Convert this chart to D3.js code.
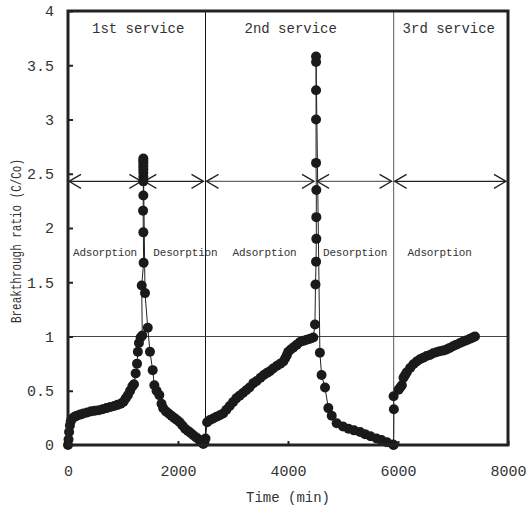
<!DOCTYPE html>
<html>
<head>
<meta charset="utf-8">
<script src="https://cdn.jsdelivr.net/npm/d3@7"></script>
<style>
  html, body { margin: 0; padding: 0; background: #fff; }
  svg { display: block; }
  text { font-family: "Liberation Mono", "Courier New", monospace; fill: #333; }
</style>
</head>
<body>
<svg id="chart" width="528" height="508"></svg>
<script>
// ---------- data ----------
const time1 = [0, 10, 20, 35, 50, 80, 120, 160, 220, 280, 350, 420, 490, 560, 630, 700, 770, 840, 900, 960, 1010, 1050, 1090, 1130, 1170, 1200, 1230, 1255, 1270, 1290, 1320, 1350,
  1340, 1375, 1370, 1365, 1370, 1370, 1370, 1370, 1370, 1370, 1370, 1370, 1370,
  1400, 1450, 1490, 1540, 1570, 1610, 1660, 1700, 1730, 1780, 1830, 1880, 1930, 1980, 2030, 2080, 2130, 2180, 2230, 2280, 2330, 2380, 2420, 2460];
const ratio1 = [0, 0.05, 0.12, 0.18, 0.22, 0.245, 0.26, 0.27, 0.28, 0.29, 0.30, 0.31, 0.315, 0.32, 0.33, 0.34, 0.35, 0.36, 0.37, 0.38, 0.40, 0.43, 0.46, 0.50, 0.54, 0.56, 0.66, 0.75, 0.86, 0.94, 0.99, 1.01,
  1.47, 1.68, 1.96, 2.16, 2.30, 2.43, 2.47, 2.51, 2.54, 2.57, 2.60, 2.62, 2.64,
  1.40, 1.08, 0.86, 0.69, 0.55, 0.50, 0.46, 0.38, 0.34, 0.31, 0.29, 0.27, 0.25, 0.23, 0.21, 0.18, 0.15, 0.13, 0.11, 0.09, 0.07, 0.05, 0.03, 0.01];

const time2 = [2480, 2500, 2530, 2580, 2640, 2700, 2760, 2820, 2880, 2940, 3000, 3060, 3120, 3180, 3240, 3300, 3370, 3430, 3500, 3560, 3620, 3670, 3730, 3800, 3860, 3915, 3950, 3980, 4005, 4050, 4100, 4160, 4218, 4280, 4340, 4400, 4460,
  4490, 4500, 4510, 4515, 4515, 4515, 4510, 4510, 4510, 4510, 4510,
  4580, 4610, 4673, 4733, 4795, 4885, 5000, 5100, 5200, 5310, 5400, 5500, 5610, 5700, 5800, 5910];
const ratio2 = [0.02, 0.06, 0.21, 0.23, 0.245, 0.26, 0.275, 0.29, 0.325, 0.36, 0.395, 0.43, 0.455, 0.48, 0.505, 0.53, 0.57, 0.59, 0.62, 0.645, 0.665, 0.68, 0.705, 0.73, 0.75, 0.77, 0.80, 0.83, 0.86, 0.88, 0.90, 0.925, 0.95, 0.96, 0.97, 0.98, 0.99,
  1.11, 1.48, 1.69, 1.90, 2.10, 2.35, 2.60, 3.00, 3.27, 3.53, 3.58,
  0.85, 0.645, 0.53, 0.34, 0.27, 0.20, 0.17, 0.15, 0.135, 0.12, 0.10, 0.08, 0.06, 0.045, 0.025, 0.005];

const time3 = [5920, 5925, 5920, 6010, 6040, 6070, 6100, 6130, 6160, 6220, 6280, 6340, 6400, 6460, 6520, 6580, 6640, 6700, 6760, 6820, 6885, 6940, 7000, 7060, 7127, 7190, 7250, 7310, 7360, 7400];
const ratio3 = [0.00, 0.33, 0.45, 0.51, 0.53, 0.55, 0.62, 0.645, 0.67, 0.71, 0.745, 0.77, 0.79, 0.805, 0.82, 0.83, 0.845, 0.855, 0.865, 0.87, 0.88, 0.895, 0.91, 0.925, 0.94, 0.955, 0.965, 0.98, 0.99, 1.00];

const serviceLabels = ["1st service", "2nd service", "3rd service"];
const serviceBounds = [0, 2500, 5920, 8000];
const phaseLabels = ["Adsorption", "Desorption", "Adsorption", "Desorption", "Adsorption"];
const phaseBounds = [0, 1370, 2500, 4510, 5920, 8000];
const arrowLevel = 2.43;
const referenceLevel = 1;
const xTicks = [0, 2000, 4000, 6000, 8000];
const yTicks = [0, 0.5, 1, 1.5, 2, 2.5, 3, 3.5, 4];
const xTitle = "Time (min)";
const yTitle = "Breakthrough ratio (C/Co)";

// ---------- layout ----------
const svg = d3.select("#chart");
const x = d3.scaleLinear().domain([0, 8000]).range([68, 508]);
const y = d3.scaleLinear().domain([0, 4]).range([445, 11]);
const phaseLabelOffsets = [5, 10, 27, 7, 14];    // px from phase start
const serviceLabelOffsets = [24, 39, 9];         // px from service start
const arrowColors = ["#222", "#222", "#666", "#666", "#222"];

// separators
const g = svg.append("g");
g.append("line").attr("x1", x(serviceBounds[1])).attr("x2", x(serviceBounds[1]))
  .attr("y1", y(4)).attr("y2", y(0)).attr("stroke", "#111").attr("stroke-width", 1);
g.append("line").attr("x1", x(serviceBounds[2])).attr("x2", x(serviceBounds[2]))
  .attr("y1", y(4)).attr("y2", y(0)).attr("stroke", "#777").attr("stroke-width", 1.2);
g.append("line").attr("x1", x(0)).attr("x2", x(8000))
  .attr("y1", y(referenceLevel)).attr("y2", y(referenceLevel)).attr("stroke", "#444").attr("stroke-width", 1);

// arrows
const ay = y(arrowLevel);
for (let i = 0; i < phaseBounds.length - 1; i++) {
  const a = x(phaseBounds[i]) + 1, b = x(phaseBounds[i + 1]) - 2;
  const c = arrowColors[i];
  g.append("line").attr("x1", a).attr("x2", b).attr("y1", ay).attr("y2", ay)
    .attr("stroke", c).attr("stroke-width", 1.3);
  g.append("path").attr("d", `M${a + 12},${ay - 7}L${a},${ay}L${a + 12},${ay + 7}`)
    .attr("fill", "none").attr("stroke", "#222").attr("stroke-width", 1.3);
  g.append("path").attr("d", `M${b - 12},${ay - 7}L${b},${ay}L${b - 12},${ay + 7}`)
    .attr("fill", "none").attr("stroke", "#222").attr("stroke-width", 1.3);
}

// phase labels
phaseLabels.forEach((t, i) => {
  g.append("text").attr("x", x(phaseBounds[i]) + phaseLabelOffsets[i]).attr("y", 256)
    .attr("font-size", 11).attr("letter-spacing", -0.2).text(t);
});

// service labels
serviceLabels.forEach((t, i) => {
  g.append("text").attr("x", x(serviceBounds[i]) + serviceLabelOffsets[i]).attr("y", 33)
    .attr("font-size", 14).attr("letter-spacing", 0).text(t);
});

// data
const line = d3.line().x(d => x(d[0])).y(d => y(d[1]));
const series = [d3.zip(time1, ratio1), d3.zip(time2, ratio2), d3.zip(time3, ratio3)];
series.forEach(s => {
  svg.append("path").datum(s).attr("d", line).attr("fill", "none")
    .attr("stroke", "#222").attr("stroke-width", 1);
});
series.forEach(s => {
  svg.append("g").selectAll("circle").data(s).join("circle")
    .attr("cx", d => x(d[0])).attr("cy", d => y(d[1])).attr("r", 5).attr("fill", "#1a1a1a");
});

// axes
const yAxis = d3.axisLeft(y).tickValues(yTicks).tickSize(-5).tickPadding(14)
  .tickFormat(d => String(d));
const xAxis = d3.axisBottom(x).tickValues(xTicks).tickSize(-4).tickPadding(20)
  .tickFormat(d => String(d));
const ya = svg.append("g").attr("transform", `translate(${x(0)},0)`).call(yAxis);
const xa = svg.append("g").attr("transform", `translate(0,${y(0)})`).call(xAxis);
[ya, xa].forEach(a => {
  a.select(".domain").remove();
  a.selectAll(".tick line").attr("stroke", "#222").attr("stroke-width", 2);
  a.selectAll(".tick text").attr("font-size", 15).attr("fill", "#333")
    .attr("font-family", "Liberation Mono, monospace");
});

// frame
svg.append("rect").attr("x", x(0)).attr("y", y(4)).attr("width", x(8000) - x(0)).attr("height", y(0) - y(4))
  .attr("fill", "none").attr("stroke", "#222").attr("stroke-width", 3);

// titles
svg.append("text").attr("x", 288).attr("y", 502).attr("text-anchor", "middle")
  .attr("font-size", 14).text(xTitle);
svg.append("text").attr("transform", "translate(21,241) rotate(-90)").attr("text-anchor", "middle")
  .attr("font-size", 14).attr("textLength", 164).attr("lengthAdjust", "spacingAndGlyphs").text(yTitle);
</script>
</body>
</html>
